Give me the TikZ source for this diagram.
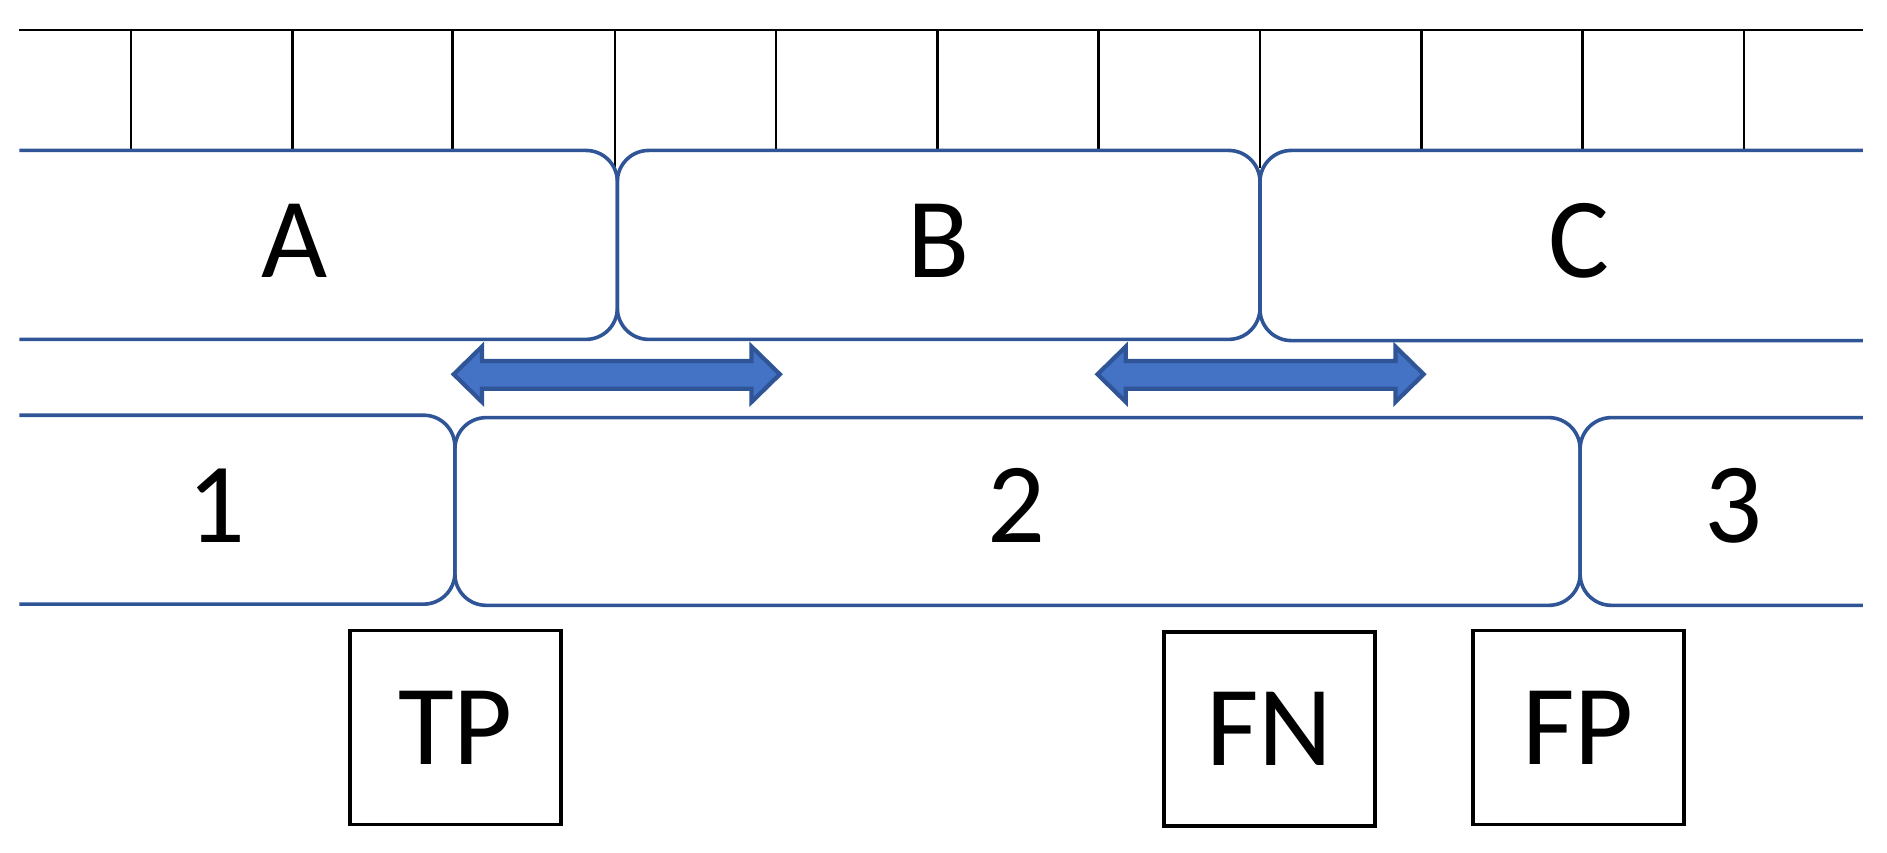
\documentclass[tikz,border=0pt]{standalone}
\usepackage{fontspec}
\setmainfont{Carlito}
\begin{document}
\begin{tikzpicture}[x=0.01cm,y=-0.01cm,
  bl/.style={draw=blueline, line width=0.85pt, rounded corners=0.26cm},
  lab/.style={font=\fontsize{27}{28}\selectfont},
  tick/.style={black, line width=0.6pt},
  bx/.style={draw=black, line width=0.9pt, minimum width=1.75cm, minimum height=1.61cm, font=\fontsize{27}{28}\selectfont},
  dar/.style={fill=arrowfill, draw=arrowdraw, line width=1pt, line join=miter}]
\definecolor{blueline}{HTML}{2F5597}
\definecolor{arrowfill}{HTML}{4472C4}
\definecolor{arrowdraw}{HTML}{2F5597}
\useasboundingbox (0,0) rectangle (1568,708);
% top scale
\draw[tick] (16,25) -- (1548,25);
\foreach \x in {109,243,376,645,779,913,1181,1315,1449} \draw[tick] (\x,25) -- (\x,125);
\foreach \x in {511,1047} \draw[tick] (\x,25) -- (\x,140);
% row 1
\draw[bl] (16,125) -- (513,125) -- (513,282) -- (16,282);
\draw[bl] (1047,125) rectangle (513,282);
\draw[bl] (1548,125) -- (1047,125) -- (1047,283) -- (1548,283);
\node[lab] (A) at (245,200) {A};
\node[lab] (B) at (780,200) {B};
\node[lab] (C) at (1312,200) {C};
% arrows
\foreach \c/\n in {512.5/ar1,1047.5/ar2}{
  \draw[dar] (\c-135.5,311) -- (\c-112,288) -- (\c-112,300) -- (\c+112,300) -- (\c+112,288)
    -- (\c+135.5,311) -- (\c+112,334) -- (\c+112,323) -- (\c-112,323) -- (\c-112,334) -- cycle;
  \coordinate (\n) at (\c,311);
}
% row 2
\draw[bl] (16,345) -- (378,345) -- (378,502) -- (16,502);
\draw[bl] (378,347) rectangle (1313,503);
\draw[bl] (1548,347) -- (1313,347) -- (1313,503) -- (1548,503);
\node[lab] (n1) at (180,420) {1};
\node[lab] (n2) at (845,420) {2};
\node[lab] (n3) at (1440,420) {3};
% boxes
\node[bx] (TP) at (378.5,604.5) {TP};
\node[bx] (FN) at (1055,605.5) {FN};
\node[bx] (FP) at (1311.5,604.5) {FP};
\end{tikzpicture}
\end{document}
